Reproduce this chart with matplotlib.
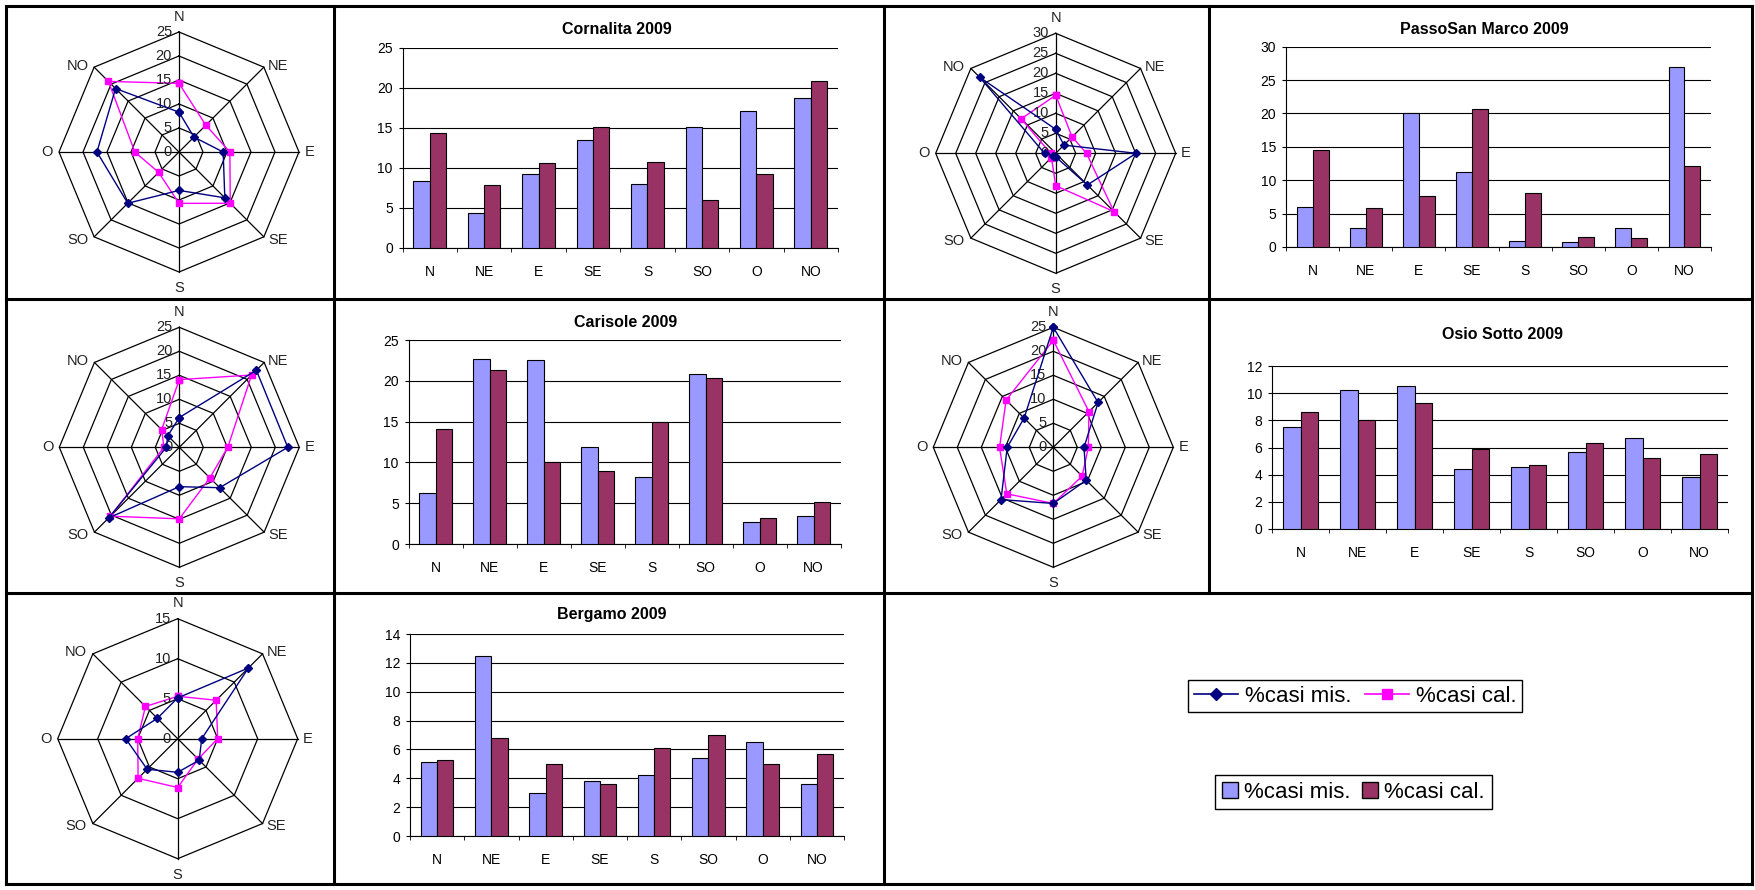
import numpy as np
import matplotlib.pyplot as plt
from matplotlib.lines import Line2D
from matplotlib.patches import Patch

plt.rcParams["font.family"] = ["Liberation Sans", "DejaVu Sans"]

W, H = 1755, 890

directions = ["N", "NE", "E", "SE", "S", "SO", "O", "NO"]

cornalita_mis = [8.3, 4.4, 9.2, 13.5, 8.0, 15.1, 17.1, 18.7]
cornalita_cal = [14.3, 7.9, 10.6, 15.1, 10.7, 6.0, 9.2, 20.8]
passo_mis = [6.0, 2.9, 20.1, 11.2, 0.9, 0.8, 2.8, 26.9]
passo_cal = [14.5, 5.8, 7.7, 20.6, 8.1, 1.5, 1.3, 12.2]
carisole_mis = [6.2, 22.7, 22.6, 11.9, 8.2, 20.8, 2.7, 3.4]
carisole_cal = [14.1, 21.3, 10.1, 9.0, 14.9, 20.3, 3.2, 5.2]
osio_mis = [7.5, 10.2, 10.5, 4.4, 4.6, 5.7, 6.7, 3.8]
osio_cal = [8.6, 8.0, 9.3, 5.9, 4.7, 6.3, 5.2, 5.5]
osio_rose_mis = [25.0, 13.2, 6.4, 9.7, 11.7, 15.4, 9.6, 8.6]
osio_rose_cal = [22.3, 10.5, 7.3, 8.5, 11.7, 13.7, 11.2, 13.9]
bergamo_mis = [5.1, 12.5, 3.0, 3.8, 4.2, 5.4, 6.5, 3.6]
bergamo_cal = [5.3, 6.8, 5.0, 3.6, 6.1, 7.0, 5.0, 5.7]

MIS_BAR = "#9999ff"
CAL_BAR = "#993366"
MIS_LINE = "#000080"
CAL_LINE = "#ff00ff"

fig = plt.figure(figsize=(W / 100, H / 100), dpi=100)

R = 120  # radar radius in pixels

label_offsets = {
    "N": (0, 11), "NE": (10, 1), "E": (7.5, 0), "SE": (10, -2),
    "S": (0, -11.5), "SO": (-12, -2), "O": (-8.5, 0), "NO": (-12, 1),
}


def rose(cx, cy, rmax, mis, cal):
    ax = fig.add_axes([(cx - R) / W, 1 - (cy + R) / H, 2 * R / W, 2 * R / H],
                      projection="polar")
    ax.set_theta_zero_location("N")
    ax.set_theta_direction(-1)
    ax.set_ylim(0, rmax)
    ax.set_axis_off()
    theta = np.deg2rad(np.arange(8) * 45)
    closed = np.append(theta, theta[0])
    for r in range(5, rmax + 1, 5):
        ax.plot(closed, [r] * 9, color="black", lw=0.9, clip_on=False)
    for t in theta:
        ax.plot([t, t], [0, rmax], color="black", lw=0.9, clip_on=False)
    ax.plot(closed, list(mis) + [mis[0]], color=MIS_LINE, lw=1.0, marker="D",
            ms=4, clip_on=False, zorder=4)
    ax.plot(closed, list(cal) + [cal[0]], color=CAL_LINE, lw=1.0, marker="s",
            ms=5, clip_on=False, zorder=3)
    for r in range(0, rmax + 1, 5):
        ax.annotate(str(r), (0, r), xytext=(-5, 0), textcoords="offset points",
                    ha="right", va="center", fontsize=10.5, color="#222222")
    for t, d in zip(theta, directions):
        ax.annotate(d, (t, rmax), xytext=label_offsets[d], textcoords="offset points",
                    ha="center", va="center", fontsize=10.5, color="#222222")


def bars(l, t, r, b, title, tx, ty, mis, cal, ymax, step):
    ax = fig.add_axes([l / W, 1 - b / H, (r - l) / W, (b - t) / H])
    x = np.arange(len(directions))
    ax.bar(x - 0.15, mis, 0.3, color=MIS_BAR, edgecolor="black", lw=0.8, zorder=3)
    ax.bar(x + 0.15, cal, 0.3, color=CAL_BAR, edgecolor="black", lw=0.8, zorder=3)
    ax.set_xlim(-0.5, 7.5)
    ax.set_ylim(0, ymax)
    ax.set_yticks(np.arange(0, ymax + 1, step))
    ax.yaxis.grid(True, color="black", lw=0.8)
    ax.set_axisbelow(True)
    ax.set_xticks(x)
    ax.set_xticklabels(directions)
    ax.set_xticks(np.arange(-0.5, 8), minor=True)
    ax.tick_params(axis="x", which="major", length=0, pad=12, labelsize=10)
    ax.tick_params(axis="x", which="minor", length=3, direction="out")
    ax.tick_params(axis="y", length=3, pad=4, labelsize=10)
    for s in ["top", "right"]:
        ax.spines[s].set_visible(False)
    for s in ["left", "bottom"]:
        ax.spines[s].set_color("black")
    fig.text(tx / W, 1 - ty / H, title, ha="center", va="center",
             fontsize=11.5, fontweight="bold")


rose(179, 152, 25, cornalita_mis, cornalita_cal)
bars(402.5, 47.5, 838, 248, "Cornalita 2009", 617, 29.6,
     cornalita_mis, cornalita_cal, 25, 5)
rose(1055.7, 153.3, 30, passo_mis, passo_cal)
bars(1286, 46.7, 1711, 247, "PassoSan Marco 2009", 1484.6, 29,
     passo_mis, passo_cal, 30, 5)
rose(179.3, 447.3, 25, carisole_mis, carisole_cal)
bars(408.5, 340, 840.5, 544, "Carisole 2009", 625.6, 322.5,
     carisole_mis, carisole_cal, 25, 5)
rose(1053.3, 447.3, 25, osio_rose_mis, osio_rose_cal)
bars(1272, 366, 1728, 529, "Osio Sotto 2009", 1502.5, 334.6,
     osio_mis, osio_cal, 12, 2)
rose(177.7, 738.7, 15, bergamo_mis, bergamo_cal)
bars(410, 634, 844, 836, "Bergamo 2009", 612, 615,
     bergamo_mis, bergamo_cal, 14, 2)

# table borders
segments = [
    (6, 6, 1752, 6), (6, 299, 1752, 299), (6, 593, 1752, 593), (6, 884, 1752, 884),
    (6, 6, 6, 884), (334, 6, 334, 884), (884, 6, 884, 884),
    (1209, 6, 1209, 593), (1752, 6, 1752, 884),
]
for x0, y0, x1, y1 in segments:
    fig.add_artist(Line2D([x0 / W, x1 / W], [1 - y0 / H, 1 - y1 / H],
                          transform=fig.transFigure, color="black", lw=2.2))

line_handles = [
    Line2D([], [], color=MIS_LINE, marker="D", ms=6, lw=1.2),
    Line2D([], [], color=CAL_LINE, marker="s", ms=7, lw=1.2),
]
leg1 = fig.legend(line_handles, ["%casi mis.", "%casi cal."], loc="center",
                  bbox_to_anchor=(1355 / W, 1 - 696 / H), ncol=2, fontsize=16,
                  fancybox=False, edgecolor="black", framealpha=1,
                  handlelength=2.0, handletextpad=0.3, columnspacing=0.6,
                  borderpad=0.25)
leg1.get_frame().set_linewidth(1)

bar_handles = [
    Patch(facecolor=MIS_BAR, edgecolor="black"),
    Patch(facecolor=CAL_BAR, edgecolor="black"),
]
leg2 = fig.legend(bar_handles, ["%casi mis.", "%casi cal."], loc="center",
                  bbox_to_anchor=(1353.5 / W, 1 - 792 / H), ncol=2, fontsize=16,
                  fancybox=False, edgecolor="black", framealpha=1,
                  handlelength=0.7, handleheight=0.7, handletextpad=0.3,
                  columnspacing=0.5, borderpad=0.3)
leg2.get_frame().set_linewidth(1)

fig.savefig("out.png", dpi=100)
